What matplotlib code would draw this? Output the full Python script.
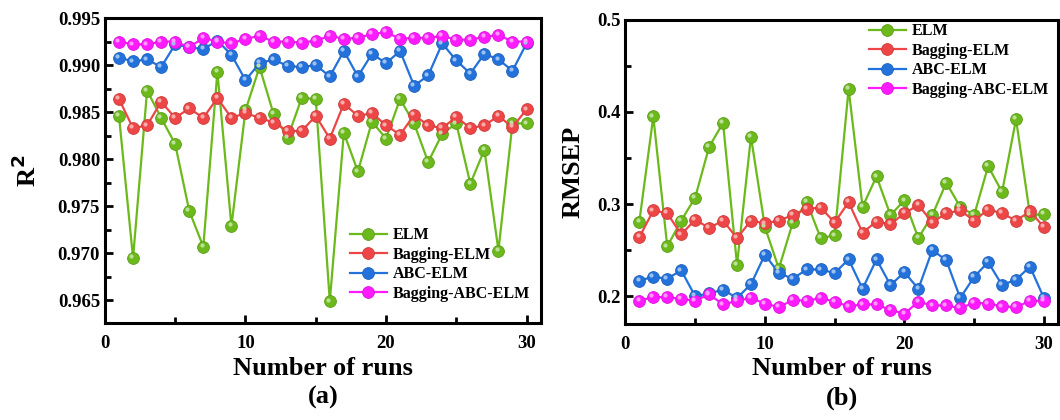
import numpy as np
import matplotlib
matplotlib.use("Agg")
import matplotlib.pyplot as plt
from matplotlib.ticker import MultipleLocator, FormatStrFormatter
from matplotlib.transforms import offset_copy

plt.rcParams['font.family'] = ['Liberation Serif', 'DejaVu Serif']
plt.rcParams['font.weight'] = 'bold'

runs = list(range(1, 31))
labels = ["ELM", "Bagging-ELM", "ABC-ELM", "Bagging-ABC-ELM"]
colors = ["#6cb91c", "#ee4646", "#2372dc", "#ff1aff"]

# R2 for each run
r2_elm = [0.9846, 0.9695, 0.9873, 0.9844, 0.9816, 0.9745, 0.9707, 0.9893, 0.9729, 0.9852,
          0.9898, 0.9848, 0.9823, 0.9865, 0.9864, 0.9649, 0.9828, 0.9787, 0.9840, 0.9822,
          0.9864, 0.9838, 0.9797, 0.9827, 0.9838, 0.9774, 0.9810, 0.9703, 0.9838, 0.9838]
r2_bag = [0.9864, 0.9833, 0.9836, 0.9861, 0.9844, 0.9854, 0.9844, 0.9865, 0.9844, 0.9849,
          0.9844, 0.9839, 0.9830, 0.9830, 0.9846, 0.9822, 0.9859, 0.9846, 0.9849, 0.9836,
          0.9826, 0.9847, 0.9836, 0.9833, 0.9845, 0.9833, 0.9836, 0.9846, 0.9834, 0.9853]
r2_abc = [0.9908, 0.9904, 0.9906, 0.9898, 0.9922, 0.9919, 0.9917, 0.9926, 0.9911, 0.9884,
          0.9902, 0.9906, 0.9899, 0.9898, 0.9900, 0.9888, 0.9915, 0.9888, 0.9912, 0.9902,
          0.9915, 0.9878, 0.9889, 0.9923, 0.9905, 0.9891, 0.9912, 0.9906, 0.9894, 0.9923]
r2_bagabc = [0.9925, 0.9922, 0.9922, 0.9925, 0.9925, 0.9919, 0.9929, 0.9925, 0.9923, 0.9928,
             0.9931, 0.9925, 0.9925, 0.9924, 0.9926, 0.9931, 0.9928, 0.9929, 0.9933, 0.9935,
             0.9928, 0.9929, 0.9929, 0.9931, 0.9927, 0.9927, 0.9930, 0.9932, 0.9925, 0.9925]

# RMSEP for each run
rm_elm = [0.281, 0.395, 0.254, 0.282, 0.307, 0.362, 0.388, 0.234, 0.373, 0.275,
          0.230, 0.280, 0.302, 0.263, 0.266, 0.425, 0.297, 0.330, 0.288, 0.304,
          0.263, 0.288, 0.323, 0.297, 0.288, 0.341, 0.313, 0.392, 0.288, 0.289]
rm_bag = [0.264, 0.293, 0.290, 0.267, 0.283, 0.274, 0.282, 0.263, 0.282, 0.279,
          0.282, 0.288, 0.295, 0.296, 0.280, 0.302, 0.269, 0.281, 0.278, 0.290,
          0.299, 0.280, 0.290, 0.293, 0.282, 0.294, 0.290, 0.282, 0.292, 0.275]
rm_abc = [0.217, 0.221, 0.219, 0.228, 0.200, 0.203, 0.207, 0.198, 0.213, 0.245,
          0.225, 0.219, 0.229, 0.229, 0.225, 0.240, 0.208, 0.240, 0.212, 0.226,
          0.208, 0.250, 0.239, 0.198, 0.221, 0.237, 0.212, 0.218, 0.232, 0.198]
rm_bagabc = [0.195, 0.199, 0.199, 0.197, 0.195, 0.202, 0.191, 0.195, 0.198, 0.192,
             0.188, 0.196, 0.195, 0.198, 0.194, 0.189, 0.191, 0.191, 0.185, 0.181,
             0.194, 0.190, 0.190, 0.187, 0.193, 0.192, 0.189, 0.188, 0.195, 0.195]


def lighten(c, amt=0.55):
    rgb = np.array(matplotlib.colors.to_rgb(c))
    return tuple(rgb + (1 - rgb) * amt)


def darken(c, amt=0.15):
    rgb = np.array(matplotlib.colors.to_rgb(c))
    return tuple(rgb * (1 - amt))


def draw_panel(ax, series, ylim, ymajor, yfmt, ylabel, ylpad, tag, legend_anchor):
    handles = []
    for vals, lab, col in zip(series, labels, colors):
        h, = ax.plot(runs, vals, '-o', color=col, lw=1.6, ms=8.5,
                     mfc=col, mec=darken(col), mew=0.6, label=lab, zorder=3)
        # small highlight on each ball
        tr = offset_copy(ax.transData, fig=ax.figure, x=-1.3, y=1.3, units='points')
        ax.plot(runs, vals, 'o', ms=3, color=lighten(col), mec='none',
                transform=tr, zorder=4)
        handles.append(h)

    ax.set_xlim(0, 31)
    ax.set_ylim(*ylim)
    ax.xaxis.set_major_locator(MultipleLocator(10))
    ax.xaxis.set_minor_locator(MultipleLocator(5))
    ax.yaxis.set_major_locator(MultipleLocator(ymajor))
    ax.yaxis.set_minor_locator(MultipleLocator(ymajor / 2))
    ax.yaxis.set_major_formatter(FormatStrFormatter(yfmt))
    ax.tick_params(which='both', direction='in', top=False, right=False,
                   width=2, labelsize=13.5)
    ax.tick_params(axis='x', pad=9)
    ax.tick_params(which='major', length=6)
    ax.tick_params(which='minor', length=4)
    for lbl in ax.get_xticklabels() + ax.get_yticklabels():
        lbl.set_fontweight('bold')
    for sp in ax.spines.values():
        sp.set_linewidth(2.2)

    ax.set_xlabel("Number of runs\n(%s)" % tag, fontsize=19, fontweight='bold',
                  labelpad=3, linespacing=1.35)
    ax.set_ylabel(ylabel, fontsize=19, fontweight='bold', labelpad=ylpad)

    leg = ax.legend(handles=handles, loc='upper left', bbox_to_anchor=legend_anchor,
                    frameon=False, fontsize=11.5, handlelength=2.3,
                    labelspacing=0.22, handletextpad=0.4, borderpad=0.2)
    for t in leg.get_texts():
        t.set_fontweight('bold')


fig = plt.figure(figsize=(10.6, 4.2), dpi=100)
ax1 = fig.add_axes([0.099, 0.231, 0.411, 0.726])
ax2 = fig.add_axes([0.590, 0.229, 0.408, 0.724])

draw_panel(ax1, [r2_elm, r2_bag, r2_abc, r2_bagabc], (0.9626, 0.995), 0.005, '%.3f',
           "R$^2$", 12, 'a', (0.537, 0.35))
draw_panel(ax2, [rm_elm, rm_bag, rm_abc, rm_bagabc], (0.17, 0.5), 0.1, '%.1f',
           "RMSEP", 9, 'b', (0.537, 1.025))

fig.savefig("out.png", dpi=100)
